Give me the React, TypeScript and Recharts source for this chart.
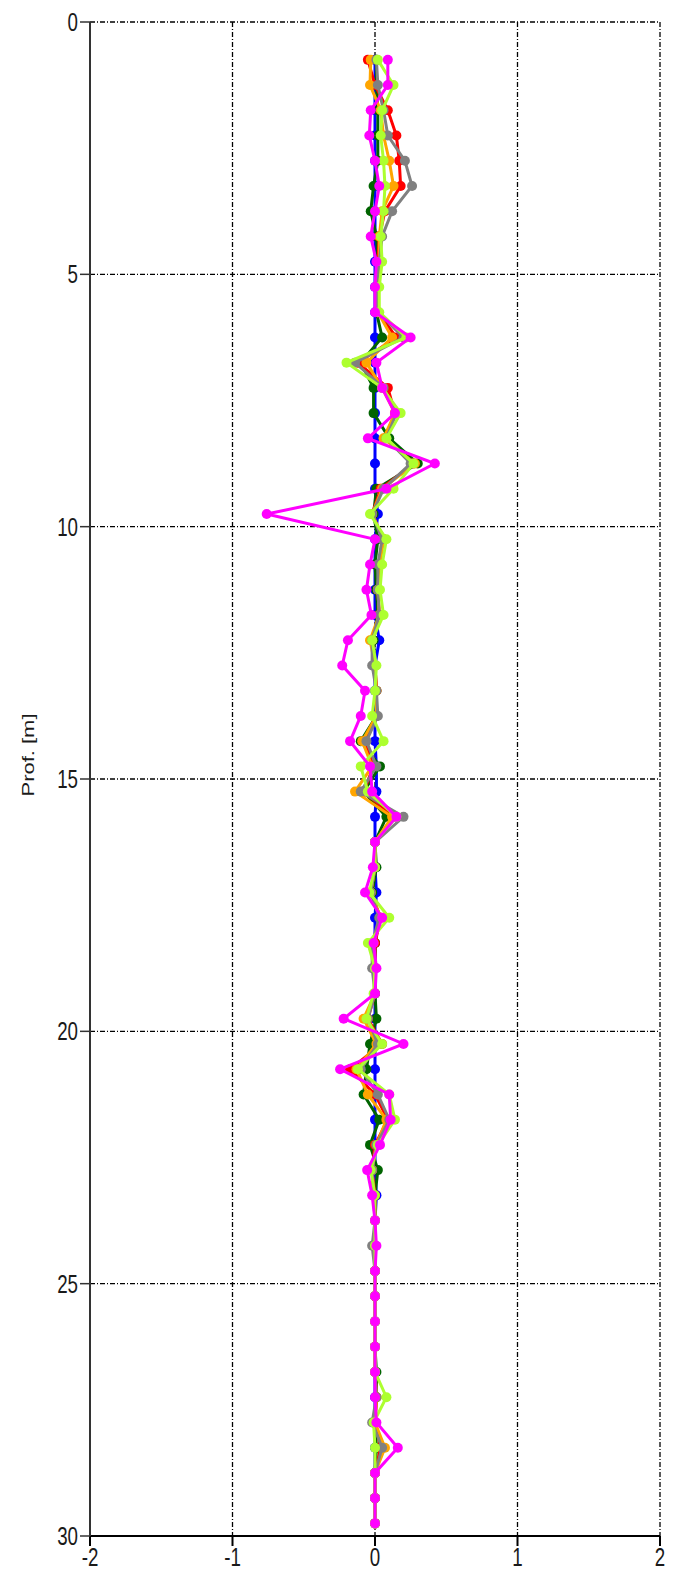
import React from "react";
import {
  ScatterChart,
  Scatter,
  XAxis,
  YAxis,
  CartesianGrid,
} from "recharts";

// depth of each reading [m]
const depths = [
  0.75, 1.25, 1.75, 2.25, 2.75, 3.25, 3.75, 4.25, 4.75, 5.25,
  5.75, 6.25, 6.75, 7.25, 7.75, 8.25, 8.75, 9.25, 9.75, 10.25,
  10.75, 11.25, 11.75, 12.25, 12.75, 13.25, 13.75, 14.25, 14.75, 15.25,
  15.75, 16.25, 16.75, 17.25, 17.75, 18.25, 18.75, 19.25, 19.75, 20.25,
  20.75, 21.25, 21.75, 22.25, 22.75, 23.25, 23.75, 24.25, 24.75, 25.25,
  25.75, 26.25, 26.75, 27.25, 27.75, 28.25, 28.75, 29.25, 29.75,
];

const blueVals = [
  0, 0, 0, 0, 0, 0, 0, 0, 0, 0,
  0, 0, 0, 0, 0, 0, 0, 0, 0.02, 0,
  0, 0, 0, 0.03, 0, 0, 0, 0, 0.01, 0.01,
  0, 0, 0, 0.01, 0, 0, 0, 0, 0, 0,
  0, 0, 0, 0, 0, 0.01, 0, 0, 0, 0,
  0, 0, 0, 0, 0, 0, 0, 0, 0,
];

const greenVals = [
  0.01, 0.01, 0.02, 0.02, 0.02, -0.01, -0.03, 0.01, 0.02, 0.01,
  0.01, 0.05, -0.1, -0.01, -0.01, 0.1, 0.3, 0.01, -0.01, 0.02,
  0, 0.01, 0.02, -0.01, 0, 0.01, 0.01, -0.1, 0.035, -0.08,
  0.08, 0, 0.01, -0.02, 0.03, 0, 0, 0, 0.01, -0.035,
  -0.06, -0.08, 0.03, -0.035, 0.02, 0, 0, 0, 0, 0,
  0, 0, 0.01, 0.01, 0, 0.01, 0, 0, 0,
];

const redVals = [
  -0.05, 0, 0.09, 0.15, 0.17, 0.18, 0.07, 0.03, 0.02, 0.01,
  0.02, 0.15, -0.12, 0.09, 0.14, 0.07, 0.27, 0.04, -0.02, 0.06,
  0.03, 0.02, 0.03, -0.02, 0, 0.01, 0.01, -0.08, -0.01, -0.08,
  0.13, 0, 0, -0.03, 0.04, 0, 0, 0, -0.05, 0.05,
  -0.175, 0, 0.09, 0, -0.02, 0, 0, 0, 0, 0,
  0, 0, 0, 0.01, 0, 0.04, 0, 0, 0,
];

const orangeVals = [
  -0.03, -0.035, 0.04, 0.06, 0.1, 0.13, 0.05, 0.03, 0.03, 0.02,
  0.02, 0.12, -0.06, 0.05, 0.14, 0.06, 0.28, 0.05, -0.02, 0.06,
  0.03, 0.02, 0.03, -0.035, 0, 0.01, 0.01, -0.09, -0.02, -0.14,
  0.12, 0, 0, -0.03, 0.04, -0.01, -0.01, 0, -0.08, 0.01,
  -0.13, -0.05, 0.08, 0.01, -0.02, -0.01, 0, 0, 0, 0,
  0, 0, 0, 0.01, 0, 0.07, 0, 0, 0,
];

const grayVals = [
  0.01, 0.02, 0.06, 0.09, 0.21, 0.26, 0.12, 0.05, 0.03, 0.01,
  0.02, 0.2, -0.14, 0.06, 0.15, 0.08, 0.25, 0.06, -0.02, 0.05,
  0.02, 0.02, 0.03, -0.02, -0.02, 0.01, 0.02, -0.06, 0.01, -0.1,
  0.2, 0, 0, -0.03, 0.03, -0.02, -0.02, 0, -0.05, 0.02,
  -0.1, 0.02, 0.1, 0.01, -0.02, -0.01, 0, -0.02, 0, 0,
  0, 0, 0, 0.01, -0.02, 0.05, 0, 0, 0,
];

const limeVals = [
  0.02, 0.13, 0.05, 0.04, 0.06, 0.07, 0.06, 0.04, 0.05, 0.03,
  0.03, 0.22, -0.2, 0.05, 0.18, 0.08, 0.27, 0.13, -0.035, 0.08,
  0.05, 0.035, 0.06, -0.02, 0.01, 0, -0.02, 0.06, -0.1, -0.05,
  0.15, 0, 0, -0.04, 0.1, -0.05, 0, -0.01, -0.06, 0.05,
  -0.12, 0.1, 0.14, 0.02, -0.03, 0, 0, 0, 0, 0,
  0, 0, 0, 0.08, -0.01, 0, 0, 0, 0,
];

const magentaVals = [
  0.09, 0.09, -0.03, -0.04, 0, 0.03, 0, -0.03, 0.01, 0,
  0, 0.25, 0.01, 0.05, 0.14, -0.05, 0.42, 0.08, -0.76, 0,
  -0.035, -0.06, -0.025, -0.19, -0.23, -0.07, -0.1, -0.175, -0.035, -0.02,
  0.15, 0, -0.015, -0.07, 0.05, -0.01, 0.01, 0, -0.22, 0.2,
  -0.245, 0.1, 0.11, 0.035, -0.055, -0.02, 0, 0.01, 0, 0,
  0, 0, 0, 0, 0.01, 0.16, 0, 0, 0,
];

const xTicks = [-2, -1, 0, 1, 2];
const yTicks = [0, 5, 10, 15, 20, 25, 30];

const series = [
  { name: "s1", color: "#0000FF", values: blueVals },
  { name: "s2", color: "#006400", values: greenVals },
  { name: "s3", color: "#FF0000", values: redVals },
  { name: "s4", color: "#FFA500", values: orangeVals },
  { name: "s5", color: "#808080", values: grayVals },
  { name: "s6", color: "#ADFF2F", values: limeVals },
  { name: "s7", color: "#FF00FF", values: magentaVals },
];

const FONT = "'Liberation Sans', Arial, sans-serif";

function YTick(props: any) {
  const { x, y, payload } = props;
  return (
    <g transform={`translate(${x} ${y}) scale(0.75 1)`}>
      <text x={0} y={0} dy="0.36em" textAnchor="end" fontSize={25} fontFamily={FONT} fill="#1a1a1a">
        {payload.value}
      </text>
    </g>
  );
}

function XTick(props: any) {
  const { x, y, payload } = props;
  return (
    <g transform={`translate(${x} ${y}) scale(0.75 1)`}>
      <text x={0} y={0} dy="0.72em" textAnchor="middle" fontSize={25} fontFamily={FONT} fill="#1a1a1a">
        {payload.value}
      </text>
    </g>
  );
}

function YLabel() {
  return (
    <g transform="translate(28 755) scale(0.75 1) rotate(-90)">
      <text x={0} y={0} dy="0.36em" textAnchor="middle" fontSize={22} fontFamily={FONT} fill="#1a1a1a">
        Prof. [m]
      </text>
    </g>
  );
}

export default function App() {
  return (
    <div style={{ position: "absolute", left: 0, top: 0, background: "#fff" }}>
      <ScatterChart
        width={678}
        height={1572}
        margin={{ top: 22, right: 18, bottom: 0, left: 0 }}
      >
        <CartesianGrid stroke="#000" strokeDasharray="5 2 1 2" strokeWidth={1.3} />
        <XAxis
          type="number"
          dataKey="x"
          domain={[-2, 2]}
          ticks={xTicks}
          allowDataOverflow
          height={36}
          tickSize={10}
          tick={<XTick />}
          axisLine={{ stroke: "#000", strokeWidth: 2 }}
          tickLine={{ stroke: "#000", strokeWidth: 2 }}
        />
        <YAxis
          type="number"
          dataKey="y"
          domain={[0, 30]}
          ticks={yTicks}
          reversed
          allowDataOverflow
          width={90}
          tickSize={10}
          tick={<YTick />}
          axisLine={{ stroke: "#333", strokeWidth: 2 }}
          tickLine={{ stroke: "#333", strokeWidth: 1.5 }}
          label={{ content: () => <YLabel /> }}
        />
        {series.map((s) => (
          <Scatter
            key={s.name}
            name={s.name}
            data={depths.map((d, i) => ({ x: s.values[i], y: d }))}
            fill={s.color}
            line={{ stroke: s.color, strokeWidth: 3 }}
            lineType="joint"
            isAnimationActive={false}
            shape={(p: any) => <circle cx={p.cx} cy={p.cy} r={5} fill={s.color} />}
          />
        ))}
      </ScatterChart>
    </div>
  );
}
